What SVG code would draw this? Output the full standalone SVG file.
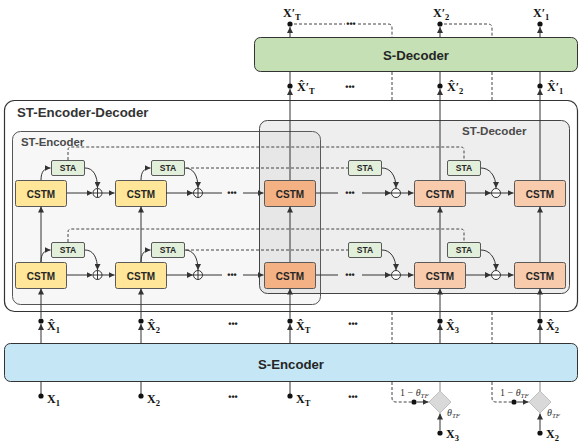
<svg xmlns="http://www.w3.org/2000/svg" width="582" height="442" viewBox="0 0 582 442">
<defs>
<marker id="ah" markerUnits="userSpaceOnUse" markerWidth="7" markerHeight="6" refX="6" refY="3" orient="auto">
<path d="M0,0 L6,3 L0,6 z" fill="#333"/>
</marker>
<style>
.cstm{fill:#ffe699;stroke:#595959;stroke-width:1}
.cd{fill:#f4b183}
.cl{fill:#f8cbad}
.sta{fill:#e2efda;stroke:#595959;stroke-width:1}
.t{font-family:"Liberation Sans",Arial,sans-serif;font-weight:bold;fill:#262626;text-anchor:middle}
.t10{font-size:10px}
.t8{font-size:8.5px}
.m{font-family:"Liberation Serif","Times New Roman",serif;font-weight:bold;font-size:12px;fill:#111}
.s{font-size:8.5px}
.th{font-family:"Liberation Serif","Times New Roman",serif;font-size:10px;fill:#333}
.ln{stroke:#333;stroke-width:1;fill:none}
.la{stroke:#333;stroke-width:1;fill:none;marker-end:url(#ah)}
.gr{stroke:#888;stroke-width:1;fill:none}
.ds{stroke:#444;stroke-width:1;fill:none;stroke-dasharray:3 2}
.dot{fill:#111}
.el{font-family:"Liberation Sans",Arial,sans-serif;font-weight:bold;font-size:9px;fill:#222;text-anchor:middle}
.op{fill:#fff;stroke:#333;stroke-width:1}
</style>
</defs>

<g id="st-encoder-decoder">
<rect x="4.5" y="100.5" width="573" height="211" rx="10" fill="#fff" stroke="#333" stroke-width="1.2"/>
<text x="17" y="117" font-family="Liberation Sans,Arial,sans-serif" font-weight="bold" font-size="13.3" fill="#333">ST-Encoder-Decoder</text>
</g>
<g id="st-encoder">
<rect x="12.5" y="131.5" width="308" height="173" rx="8" fill="#f7f7f7" stroke="#555"/>
<text x="21" y="145.5" font-family="Liberation Sans,Arial,sans-serif" font-weight="bold" font-size="11.4" fill="#4a4a4a">ST-Encoder</text>
</g>
<g id="st-decoder">
<rect x="259.5" y="120.5" width="310" height="173" rx="8" fill="rgb(120,120,120)" fill-opacity="0.13" stroke="#444"/>
<text x="462" y="135" font-family="Liberation Sans,Arial,sans-serif" font-weight="bold" font-size="11.6" fill="#4a4a4a">ST-Decoder</text>
</g>

<g id="s-decoder">
<rect x="254.5" y="37.5" width="323" height="34" rx="6" fill="#c5e0b4" stroke="#333"/>
<text class="t" x="416" y="59.5" font-size="13.2">S-Decoder</text>
</g>
<g id="s-encoder">
<rect x="4.5" y="343.5" width="573" height="38" rx="6" fill="#c5e6f5" stroke="#333"/>
<text class="t" x="291" y="368.5" font-size="13.2">S-Encoder</text>
</g>

<g id="cstm-r1c1"><rect class="cstm" x="15.5" y="180.5" width="51" height="26" rx="2"/><text class="t t10" x="41" y="197.5">CSTM</text></g>
<g id="cstm-r1c2"><rect class="cstm" x="115.5" y="180.5" width="51" height="26" rx="2"/><text class="t t10" x="141" y="197.5">CSTM</text></g>
<g id="cstm-r1c3"><rect class="cstm cd" x="264.5" y="180.5" width="51" height="26" rx="2"/><text class="t t10" x="290" y="197.5">CSTM</text></g>
<g id="cstm-r1c4"><rect class="cstm cl" x="414.5" y="180.5" width="51" height="26" rx="2"/><text class="t t10" x="440" y="197.5">CSTM</text></g>
<g id="cstm-r1c5"><rect class="cstm cl" x="514.5" y="180.5" width="51" height="26" rx="2"/><text class="t t10" x="540" y="197.5">CSTM</text></g>
<g id="cstm-r2c1"><rect class="cstm" x="15.5" y="262.5" width="51" height="26" rx="2"/><text class="t t10" x="41" y="279.5">CSTM</text></g>
<g id="cstm-r2c2"><rect class="cstm" x="115.5" y="262.5" width="51" height="26" rx="2"/><text class="t t10" x="141" y="279.5">CSTM</text></g>
<g id="cstm-r2c3"><rect class="cstm cd" x="264.5" y="262.5" width="51" height="26" rx="2"/><text class="t t10" x="290" y="279.5">CSTM</text></g>
<g id="cstm-r2c4"><rect class="cstm cl" x="414.5" y="262.5" width="51" height="26" rx="2"/><text class="t t10" x="440" y="279.5">CSTM</text></g>
<g id="cstm-r2c5"><rect class="cstm cl" x="514.5" y="262.5" width="51" height="26" rx="2"/><text class="t t10" x="540" y="279.5">CSTM</text></g>

<g id="sta-r1c1"><rect class="sta" x="51.5" y="160.5" width="33" height="15" rx="1.5"/><text class="t t8" x="68" y="171">STA</text></g>
<g id="sta-r1c2"><rect class="sta" x="151.5" y="160.5" width="33" height="15" rx="1.5"/><text class="t t8" x="168" y="171">STA</text></g>
<g id="sta-r1c3"><rect class="sta" x="348.5" y="160.5" width="33" height="15" rx="1.5"/><text class="t t8" x="365" y="171">STA</text></g>
<g id="sta-r1c4"><rect class="sta" x="447.5" y="160.5" width="33" height="15" rx="1.5"/><text class="t t8" x="464" y="171">STA</text></g>
<g id="sta-r2c1"><rect class="sta" x="51.5" y="242.5" width="33" height="15" rx="1.5"/><text class="t t8" x="68" y="253">STA</text></g>
<g id="sta-r2c2"><rect class="sta" x="151.5" y="242.5" width="33" height="15" rx="1.5"/><text class="t t8" x="168" y="253">STA</text></g>
<g id="sta-r2c3"><rect class="sta" x="348.5" y="242.5" width="33" height="15" rx="1.5"/><text class="t t8" x="365" y="253">STA</text></g>
<g id="sta-r2c4"><rect class="sta" x="447.5" y="242.5" width="33" height="15" rx="1.5"/><text class="t t8" x="464" y="253">STA</text></g>

<g id="connectors">
<path class="la" d="M67,193 H92.5"/>
<path class="la" d="M102,193 H114.5"/>
<path class="la" d="M166,193 H193"/>
<path class="ln" d="M202.5,193 H222"/>
<path class="la" d="M243,193 H263.5"/>
<path class="ln" d="M316,193 H338"/>
<path class="la" d="M362,193 H391"/>
<path class="la" d="M400.5,193 H413.5"/>
<path class="la" d="M466,193 H491"/>
<path class="la" d="M500.5,193 H513.5"/>
<path class="la" d="M67,275 H92.5"/>
<path class="la" d="M102,275 H114.5"/>
<path class="la" d="M166,275 H193"/>
<path class="ln" d="M202.5,275 H222"/>
<path class="la" d="M243,275 H263.5"/>
<path class="ln" d="M316,275 H338"/>
<path class="la" d="M362,275 H391"/>
<path class="la" d="M400.5,275 H413.5"/>
<path class="la" d="M466,275 H491"/>
<path class="la" d="M500.5,275 H513.5"/>
<path class="la" d="M41,180 C41,172 44,168 50.5,168"/>
<path class="la" d="M141,180 C141,172 144,168 150.5,168"/>
<path class="la" d="M85,168 C93,168 97.5,175 97.5,188"/>
<path class="la" d="M185,168 C193,168 198,175 198,188"/>
<path class="la" d="M382,168 C390,168 396,175 396,188"/>
<path class="la" d="M481,168 C489,168 496,175 496,188"/>
<path class="la" d="M41,262 C41,254 44,250 50.5,250"/>
<path class="la" d="M141,262 C141,254 144,250 150.5,250"/>
<path class="la" d="M85,250 C93,250 97.5,257 97.5,270"/>
<path class="la" d="M185,250 C193,250 198,257 198,270"/>
<path class="la" d="M382,250 C390,250 396,257 396,270"/>
<path class="la" d="M481,250 C489,250 496,257 496,270"/>
<path class="ds" d="M68,160 V150 Q68,147 71,147 H461 Q464,147 464,150 V160"/>
<path class="ds" d="M186,168 H348"/>
<path class="ds" d="M68,242 V232 Q68,229 71,229 H461 Q464,229 464,232 V242"/>
<path class="ds" d="M186,250 H348"/>
<path class="la" d="M41,262 V206.5"/>
<path class="la" d="M141,262 V206.5"/>
<path class="la" d="M290,262 V206.5"/>
<path class="la" d="M440,262 V206.5"/>
<path class="la" d="M540,262 V206.5"/>
<path class="la" d="M41,343 V324"/><path class="la" d="M41,318 V288.5"/>
<path class="la" d="M141,343 V324"/><path class="la" d="M141,318 V288.5"/>
<path class="la" d="M290,343 V324"/><path class="la" d="M290,318 V288.5"/>
<path class="la" d="M440,343 V324"/><path class="la" d="M440,318 V288.5"/>
<path class="la" d="M540,343 V324"/><path class="la" d="M540,318 V288.5"/>
<path class="ln" d="M41,382 V396"/>
<path class="ln" d="M141,382 V396"/>
<path class="ln" d="M290,382 V396"/>
<path class="gr" d="M440,382 V391"/>
<path class="gr" d="M540,382 V391"/>
<path class="la" d="M440,430 V413.5"/>
<path class="la" d="M540,430 V413.5"/>
<path class="ds" d="M392,382 V398 Q392,402 396,402 H411"/>
<path class="ds" d="M492,382 V398 Q492,402 496,402 H511"/>
<path class="la" d="M417,402 H428.5"/>
<path class="la" d="M517,402 H528.5"/>
<path class="la" d="M290,180 V89"/><path class="ln" d="M290,86 V72"/><path class="la" d="M290,37 V27"/>
<path class="la" d="M440,180 V89"/><path class="ln" d="M440,86 V72"/><path class="la" d="M440,37 V27"/>
<path class="la" d="M540,180 V89"/><path class="ln" d="M540,86 V72"/><path class="la" d="M540,37 V27"/>
<path class="ds" d="M294,24 H345 M358,24 H388 Q392,24 392,28 V37 M392,72 V100 M392,312 V343"/>
<path class="ds" d="M444,24 H488 Q492,24 492,28 V37 M492,72 V100 M492,312 V343"/>
</g>

<g id="operators">
<circle class="op" cx="97.5" cy="193" r="4.5"/><path class="ln" d="M93,193 H102 M97.5,188.5 V197.5"/>
<circle class="op" cx="198" cy="193" r="4.5"/><path class="ln" d="M193.5,193 H202.5 M198,188.5 V197.5"/>
<circle class="op" cx="396" cy="193" r="4.5"/><path class="ln" d="M391.5,193 H400.5"/>
<circle class="op" cx="496" cy="193" r="4.5"/><path class="ln" d="M491.5,193 H500.5"/>
<circle class="op" cx="97.5" cy="275" r="4.5"/><path class="ln" d="M93,275 H102 M97.5,270.5 V279.5"/>
<circle class="op" cx="198" cy="275" r="4.5"/><path class="ln" d="M193.5,275 H202.5 M198,270.5 V279.5"/>
<circle class="op" cx="396" cy="275" r="4.5"/><path class="ln" d="M391.5,275 H400.5"/>
<circle class="op" cx="496" cy="275" r="4.5"/><path class="ln" d="M491.5,275 H500.5"/>
</g>

<g id="gates">
<path d="M440,391 L451,402 L440,413 L429,402 z" fill="#d9d9d9" stroke="#bfbfbf"/>
<path d="M540,391 L551,402 L540,413 L529,402 z" fill="#d9d9d9" stroke="#bfbfbf"/>
<text class="th" x="400" y="396">1 − <tspan font-style="italic">θ</tspan><tspan font-style="italic" font-size="7" dy="2">TF</tspan></text>
<text class="th" x="447" y="416"><tspan font-style="italic">θ</tspan><tspan font-style="italic" font-size="7" dy="2">TF</tspan></text>
<text class="th" x="500" y="396">1 − <tspan font-style="italic">θ</tspan><tspan font-style="italic" font-size="7" dy="2">TF</tspan></text>
<text class="th" x="547" y="416"><tspan font-style="italic">θ</tspan><tspan font-style="italic" font-size="7" dy="2">TF</tspan></text>
</g>

<g id="dots">
<circle class="dot" cx="41" cy="321" r="2.6"/><circle class="dot" cx="141" cy="321" r="2.6"/><circle class="dot" cx="290" cy="321" r="2.6"/><circle class="dot" cx="440" cy="321" r="2.6"/><circle class="dot" cx="540" cy="321" r="2.6"/>
<circle class="dot" cx="41" cy="396" r="2.6"/><circle class="dot" cx="141" cy="396" r="2.6"/><circle class="dot" cx="290" cy="396" r="2.6"/>
<circle class="dot" cx="440" cy="433" r="2.6"/><circle class="dot" cx="540" cy="433" r="2.6"/>
<circle class="dot" cx="414" cy="402" r="2.6"/><circle class="dot" cx="514" cy="402" r="2.6"/>
<circle class="dot" cx="290" cy="86" r="2.6"/><circle class="dot" cx="440" cy="86" r="2.6"/><circle class="dot" cx="540" cy="86" r="2.6"/>
<circle class="dot" cx="290" cy="24" r="2.6"/><circle class="dot" cx="440" cy="24" r="2.6"/><circle class="dot" cx="540" cy="24" r="2.6"/>
</g>

<g id="ellipses">
<text class="el" x="232" y="196">•••</text>
<text class="el" x="232" y="278">•••</text>
<text class="el" x="350" y="196">•••</text>
<text class="el" x="350" y="278">•••</text>
<text class="el" x="351" y="27">•••</text>
<text class="el" x="350" y="90">•••</text>
<text class="el" x="233" y="327">•••</text>
<text class="el" x="353" y="327">•••</text>
<text class="el" x="233" y="400">•••</text>
<text class="el" x="353" y="400">•••</text>
</g>

<g id="labels">
<text class="m" x="283" y="17">X′<tspan class="s" dy="3">T</tspan></text>
<text class="m" x="433" y="17">X′<tspan class="s" dy="3">2</tspan></text>
<text class="m" x="533" y="17">X′<tspan class="s" dy="3">1</tspan></text>
<text class="m" x="297" y="91">X̂′<tspan class="s" dy="3">T</tspan></text>
<text class="m" x="447" y="91">X̂′<tspan class="s" dy="3">2</tspan></text>
<text class="m" x="547" y="91">X̂′<tspan class="s" dy="3">1</tspan></text>
<text class="m" x="47" y="330">X̂<tspan class="s" dy="3">1</tspan></text>
<text class="m" x="147" y="330">X̂<tspan class="s" dy="3">2</tspan></text>
<text class="m" x="296" y="330">X̂<tspan class="s" dy="3">T</tspan></text>
<text class="m" x="446" y="330">X̂<tspan class="s" dy="3">3</tspan></text>
<text class="m" x="546" y="330">X̂<tspan class="s" dy="3">2</tspan></text>
<text class="m" x="47" y="403">X<tspan class="s" dy="3">1</tspan></text>
<text class="m" x="147" y="403">X<tspan class="s" dy="3">2</tspan></text>
<text class="m" x="296" y="403">X<tspan class="s" dy="3">T</tspan></text>
<text class="m" x="446" y="438">X<tspan class="s" dy="3">3</tspan></text>
<text class="m" x="546" y="438">X<tspan class="s" dy="3">2</tspan></text>
</g>
</svg>
